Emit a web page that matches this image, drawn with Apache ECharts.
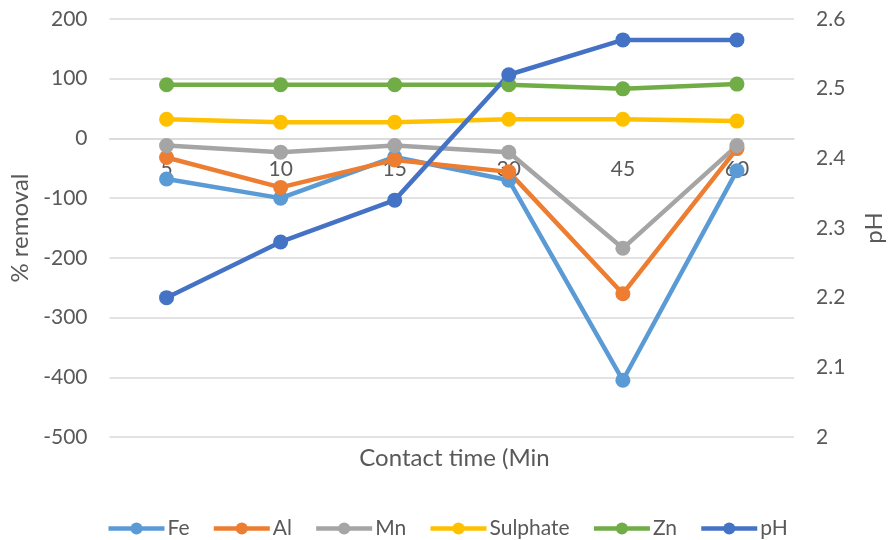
<!DOCTYPE html>
<html>
<head>
<meta charset="utf-8">
<script src="https://cdn.jsdelivr.net/npm/echarts@6/dist/echarts.min.js"></script>
<style>
  html, body { margin: 0; padding: 0; background: #fff; }
  #chart { width: 894px; height: 540px; }
</style>
</head>
<body>
<div id="chart"></div>
<script>
// Contact time (minutes) on the category axis
const contactTimes = ['5', '10', '15', '30', '45', '60'];

// % removal per contaminant (left axis)
const fe = [-68, -100, -31, -70, -405, -54];
const al = [-32, -82, -36, -56, -260, -17];
const mn = [-12, -23, -12, -23, -184, -12];
const sulphate = [32, 27, 27, 32, 32, 29];
const zn = [90, 90, 90, 90, 83, 91];

// pH (right axis)
const ph = [2.20, 2.28, 2.34, 2.52, 2.57, 2.57];

// Left axis range
const REMOVAL_MIN = -500;
const REMOVAL_MAX = 200;

const TEXT = '#595959';
const FONT = 'Lato';
const GRID_LINE = '#D9D9D9';

const GRID = { left: 109.5, right: 94.5, top: 19, bottom: 103 };
const PLOT_H = 540 - GRID.top - GRID.bottom;
// Shift the category axis up so it sits on the 0 % line of the left axis
const zeroShift = -PLOT_H * (0 - REMOVAL_MIN) / (REMOVAL_MAX - REMOVAL_MIN);

function lineSeries(name, data, color, axisIndex) {
  return {
    name: name,
    type: 'line',
    yAxisIndex: axisIndex,
    data: data,
    symbol: 'circle',
    symbolSize: 15,
    lineStyle: { width: 4.5, color: color },
    itemStyle: { color: color },
    emphasis: { disabled: true },
    animation: false
  };
}

const chart = echarts.init(document.getElementById('chart'), null, { renderer: 'canvas' });

chart.setOption({
  animation: false,
  grid: Object.assign({ containLabel: false }, GRID),
  legend: {
    top: 513,
    left: 'center',
    itemWidth: 56,
    itemHeight: 15,
    itemGap: 22,
    lineStyle: { width: 4.5 },
    textStyle: { color: TEXT, fontFamily: FONT, fontSize: 21, padding: [0, 0, 0, -2] },
    data: ['Fe', 'Al', 'Mn', 'Sulphate', 'Zn', 'pH']
  },
  xAxis: {
    type: 'category',
    data: contactTimes,
    boundaryGap: true,
    offset: zeroShift,
    axisLine: { show: true, onZero: false, lineStyle: { color: GRID_LINE, width: 1.5 } },
    axisTick: { show: false },
    axisLabel: { color: TEXT, fontFamily: FONT, fontSize: 21, margin: 20 },
    splitLine: { show: false }
  },
  yAxis: [
    {
      type: 'value',
      min: REMOVAL_MIN,
      max: REMOVAL_MAX,
      interval: 100,
      name: '% removal',
      nameLocation: 'middle',
      nameRotate: 90,
      nameGap: 76,
      nameTextStyle: { color: TEXT, fontFamily: FONT, fontSize: 24 },
      axisLine: { show: false },
      axisTick: { show: false },
      axisLabel: { color: TEXT, fontFamily: FONT, fontSize: 21, margin: 22 },
      splitLine: { show: true, lineStyle: { color: GRID_LINE, width: 1.5 } }
    },
    {
      type: 'value',
      position: 'right',
      min: 2,
      max: 2.6,
      interval: 0.1,
      name: 'pH',
      nameLocation: 'middle',
      nameRotate: 90,
      nameGap: 68,
      nameTextStyle: { color: TEXT, fontFamily: FONT, fontSize: 24 },
      axisLine: { show: false },
      axisTick: { show: false },
      axisLabel: {
        color: TEXT, fontFamily: FONT, fontSize: 21, margin: 22,
        formatter: v => String(+v.toFixed(1))
      },
      splitLine: { show: false }
    }
  ],
  graphic: [
    {
      type: 'text',
      x: 454.5,
      y: 458,
      style: {
        text: 'Contact time (Min',
        fill: TEXT,
        font: '24px ' + FONT,
        textAlign: 'center',
        textVerticalAlign: 'middle'
      }
    }
  ],
  series: [
    lineSeries('Fe', fe, '#5B9BD5', 0),
    lineSeries('Al', al, '#ED7D31', 0),
    lineSeries('Mn', mn, '#A5A5A5', 0),
    lineSeries('Sulphate', sulphate, '#FFC000', 0),
    lineSeries('Zn', zn, '#70AD47', 0),
    lineSeries('pH', ph, '#4472C4', 1)
  ]
});
</script>
</body>
</html>
